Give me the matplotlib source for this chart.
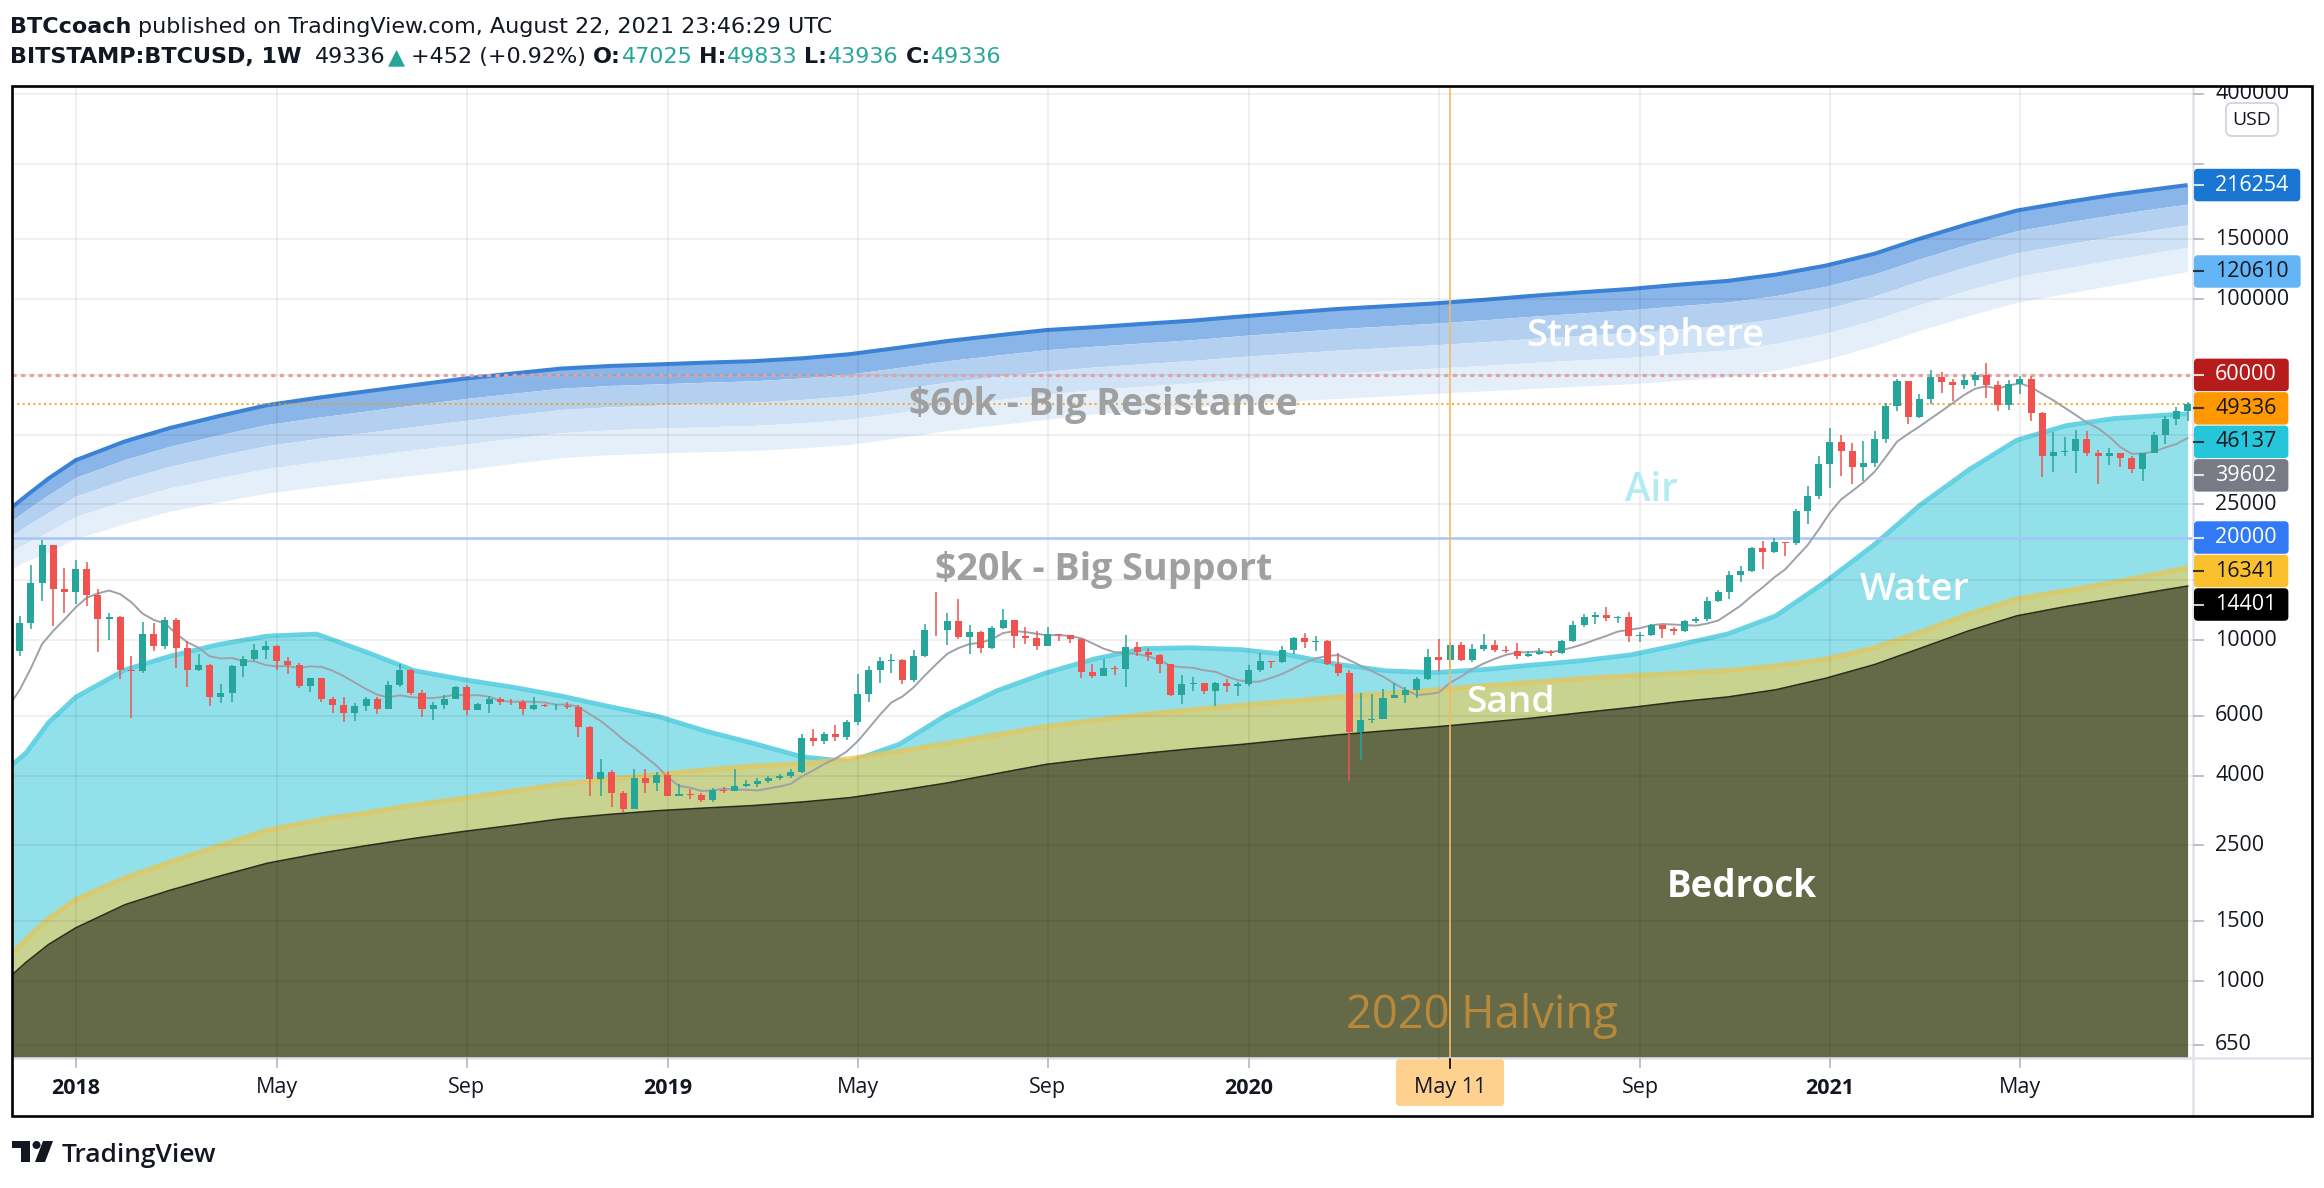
import numpy as np
import pandas as pd
import matplotlib
matplotlib.use("Agg")
import matplotlib.pyplot as plt
import matplotlib.dates as mdates
from matplotlib.patches import Rectangle, FancyBboxPatch, Polygon, Circle
from matplotlib.transforms import Bbox
from matplotlib.ticker import NullLocator

plt.rcParams['font.family'] = ['Open Sans', 'DejaVu Sans']

# ===================== DATA =====================
# Weekly OHLC, BITSTAMP:BTCUSD 1W, first bar = week of 2017-11-27
bar_start = '2017-11-27'
first_open = 9300
closes_2017 = [11230, 14700, 18950, 14100, 13850]
highs_2017 = [11800, 16600, 19666, 19000, 16300]
lows_2017 = [9000, 10800, 13000, 11000, 12000]

closes_2018 = [16150, 13600, 11550, 11700, 8180, 8100, 10400, 9600, 11450, 9500, 8200, 8450, 6820,
               7000, 8370, 8800, 9380, 9600, 8700, 8480, 7350, 7720, 6730, 6460, 6130, 6390,
               6700, 6290, 7390, 8200, 7000, 6300, 6450, 6700, 7300, 6250, 6500, 6700, 6600,
               6580, 6300, 6440, 6400, 6420, 6350, 5580, 3920, 4110, 3560, 3200, 3950, 3820]
highs_2018 = [17200, 16900, 14100, 12000, 11750, 9000, 11300, 11200, 11700, 11600, 9950, 9100, 8500,
              7450, 8450, 9000, 9750, 9960, 9650, 8900, 8550, 7750, 7750, 6820, 6800, 6550,
              6800, 6800, 7600, 8500, 8250, 7150, 6600, 6900, 7350, 7400, 6550, 6850, 6800,
              6700, 6660, 6800, 6500, 6480, 6600, 6450, 5600, 4470, 4150, 3600, 4200, 4180]
lows_2018 = [12800, 12600, 9200, 10000, 7700, 5900, 8000, 9300, 9400, 8300, 7300, 8100, 6400,
             6550, 6600, 7800, 8700, 8800, 8200, 7950, 7230, 7050, 6600, 6130, 5750, 5780,
             6200, 6080, 6280, 7300, 6900, 5950, 5850, 6300, 6700, 6050, 6250, 6100, 6450,
             6450, 6030, 6250, 6350, 6250, 6300, 5190, 3480, 3500, 3250, 3120, 3200, 3560]

closes_2019 = [4020, 3500, 3545, 3510, 3400, 3640, 3620, 3740, 3790, 3860, 3940, 3990, 4110,
               5180, 5070, 5290, 5200, 5760, 6950, 8170, 8700, 8740, 7640, 8990, 10730, 10700,
               11410, 10200, 10560, 9500, 10850, 11450, 10250, 10150, 9600, 10400, 10320, 10050, 8050,
               7850, 8300, 8230, 9550, 9200, 9040, 8500, 6900, 7420, 7500, 7080, 7500, 7320]
highs_2019 = [4100, 4100, 3780, 3650, 3560, 3690, 3700, 4200, 3880, 3950, 3990, 4050, 4180,
              5300, 5470, 5360, 5640, 5850, 7950, 8400, 8900, 9080, 8780, 9360, 11180, 13800,
              12000, 13170, 11050, 10650, 11000, 12320, 11450, 10950, 10620, 10920, 10450, 10350, 10080,
              8500, 8780, 8400, 10350, 9900, 9500, 9100, 8500, 7880, 7800, 7500, 7520, 7700]
lows_2019 = [3600, 3480, 3480, 3430, 3340, 3350, 3560, 3600, 3700, 3700, 3820, 3900, 3950,
             4080, 4900, 4960, 5050, 5100, 5650, 6600, 7500, 8000, 7440, 7540, 8950, 10300,
             9650, 10100, 9100, 9150, 9400, 10800, 9460, 9750, 9350, 9580, 9950, 9800, 7750,
             7760, 7850, 7900, 7300, 8970, 8700, 8000, 6850, 6500, 7080, 6950, 6430, 7050]

closes_2020 = [7450, 8200, 8700, 8600, 9340, 10150, 9900, 9960, 8530, 8030, 5360, 5820, 5880,
               6780, 6900, 7120, 7700, 8900, 8730, 9670, 8720, 9450, 9650, 9360, 9290, 9000,
               9080, 9240, 9160, 9930, 11040, 11680, 11860, 11650, 11700, 10250, 10330, 11070, 10750,
               10660, 11370, 11500, 13030, 13800, 15480, 15960, 18680, 18180, 19350, 19250, 23850, 26500]
highs_2020 = [7550, 8450, 9180, 8700, 9600, 10180, 10500, 10250, 9980, 9180, 8180, 7000, 6950,
              7200, 7470, 7300, 7780, 9450, 10050, 9900, 9850, 9740, 10400, 10000, 9580, 9790,
              9320, 9460, 9340, 10000, 11400, 11900, 12100, 12470, 11800, 12090, 10570, 11180, 11050,
              10950, 11480, 11730, 13350, 14050, 15960, 16480, 18800, 19470, 19920, 19400, 24200, 28400]
lows_2020 = [6880, 7350, 8050, 8280, 8550, 9100, 9500, 9300, 8450, 7850, 3850, 4440, 5700,
             5860, 6750, 6550, 6780, 7650, 8100, 8200, 8700, 8630, 9300, 9250, 9150, 8830,
             8900, 9050, 9000, 9120, 9880, 10930, 11150, 11350, 11200, 9900, 9880, 10250, 10140,
             10380, 10530, 11230, 11400, 12900, 13200, 14850, 15800, 16200, 18000, 17600, 19000, 21900]

closes_2021 = [32900, 38200, 35900, 32300, 33100, 38900, 48600, 57500, 45200, 51000, 59100, 57300,
               55900, 57800, 59800, 56200, 49100, 56600, 58200, 46400, 34700, 35700, 35800, 39000,
               35500, 34700, 35300, 34250, 31800, 35400, 39900, 44600, 47025, 49336]
highs_2021 = [34800, 41950, 40100, 37850, 38500, 40950, 49700, 58350, 57500, 52600, 61800, 61000,
              58500, 60100, 61300, 64900, 57500, 58000, 59600, 59500, 46600, 40900, 39500, 41300,
              41000, 36100, 36600, 35400, 34700, 35500, 40900, 45300, 48150, 49833]
lows_2021 = [26000, 28000, 30400, 28800, 29300, 32300, 37800, 47000, 43000, 44950, 49300, 53100,
             50400, 54600, 55500, 51300, 47000, 47200, 52900, 43800, 30000, 31100, 34800, 31000,
             34800, 28800, 32700, 32100, 31000, 29300, 35300, 37600, 42800, 43936]

# closes of the weeks before the first bar (only used to start the moving average)
ma_warmup_start = '2017-09-25'
ma_warmup_closes = [4400, 4600, 5700, 6000, 6150, 7400, 5950, 8000, 9300]
ma_length = 9

# Band indicator (month starts, plus mid-December 2017)
band_dates = ['2017-11-22', '2017-12-01', '2017-12-15',
              '2018-01-01', '2018-02-01', '2018-03-01', '2018-04-01', '2018-05-01', '2018-06-01',
              '2018-07-01', '2018-08-01', '2018-09-01', '2018-10-01', '2018-11-01', '2018-12-01',
              '2019-01-01', '2019-02-01', '2019-03-01', '2019-04-01', '2019-05-01', '2019-06-01',
              '2019-07-01', '2019-08-01', '2019-09-01', '2019-10-01', '2019-11-01', '2019-12-01',
              '2020-01-01', '2020-02-01', '2020-03-01', '2020-04-01', '2020-05-01', '2020-06-01',
              '2020-07-01', '2020-08-01', '2020-09-01', '2020-10-01', '2020-11-01', '2020-12-01',
              '2021-01-01', '2021-02-01', '2021-03-01', '2021-04-01', '2021-05-01', '2021-06-01',
              '2021-07-01', '2021-08-01', '2021-08-16']
bedrock_top = [1040, 1135, 1279, 1431, 1675, 1845, 2030, 2215, 2360, 2490, 2620, 2745, 2860, 2990, 3080,
               3160, 3220, 3270, 3350, 3450, 3620, 3810, 4060, 4320, 4490, 4650, 4800,
               4940, 5110, 5270, 5420, 5560, 5730, 5900, 6120, 6340, 6590, 6810, 7150,
               7720, 8480, 9440, 10650, 11780, 12550, 13250, 14030, 14401]
sand_top = [1200, 1326, 1527, 1735, 2010, 2235, 2495, 2770, 2965, 3110, 3285, 3440, 3605, 3780, 3915,
            4040, 4170, 4275, 4340, 4490, 4730, 4980, 5280, 5580, 5820, 6050, 6250,
            6440, 6630, 6810, 6980, 7140, 7350, 7520, 7720, 7870, 7990, 8160, 8400,
            8790, 9510, 10530, 11930, 13220, 13980, 14780, 15800, 16341]
water_top = [4300, 4670, 5725, 6800, 8185, 8970, 9718, 10278, 10420, 9270, 8143, 7660, 7290, 6860, 6390,
             5970, 5390, 4990, 4550, 4400, 4950, 6050, 7100, 8020, 8800, 9450, 9500,
             9380, 9040, 8500, 8130, 8030, 8200, 8450, 8700, 9050, 9680, 10430, 11780,
             14800, 19100, 24800, 31600, 38600, 42600, 44700, 45700, 46137]
strat_top = [24500, 26500, 29780, 33700, 38300, 41900, 45450, 48900, 51350, 53600, 56000, 58450, 60500,
             62600, 63700, 64400, 65200, 65800, 67100, 69000, 72100, 75400, 78300, 81200, 82800,
             84700, 86500, 89000, 91400, 93600, 95400, 97200, 99600, 102300, 104800, 107200,
             110300, 113200, 118100, 125400, 136000, 150400, 166500, 182000, 192700, 202600,
             211800, 216254]
strat_bottom = [16250, 17050, 18100, 19870, 21970, 23900, 25470, 27000, 28200, 29300, 30480, 31600, 32940,
                34300, 34980, 35400, 35730, 36000, 36650, 37500, 39300, 41200, 42800, 44400, 46100,
                47200, 48200, 49400, 50300, 51150, 52050, 52950, 53850, 54700, 55600, 56500,
                57800, 59200, 61900, 66500, 73100, 81000, 89600, 97900, 104000, 110200,
                117200, 120610]
strat_layer_fracs = [0.0, 0.22, 0.46, 0.72, 1.0]

level_60k = 60000
level_last = 49336
level_20k = 20000
halving_date = '2020-05-11'

price_ticks = [650, 1000, 1500, 2500, 4000, 6000, 10000, 15000, 25000, 40000, 60000,
               100000, 150000, 250000, 400000]
time_tick_dates = ['2018-01-01', '2018-05-07', '2018-09-03', '2019-01-07', '2019-05-06', '2019-09-02',
                   '2020-01-06', '2020-05-04', '2020-09-07', '2021-01-04', '2021-05-03']
time_tick_labels = ['2018', 'May', 'Sep', '2019', 'May', 'Sep', '2020', 'May', 'Sep', '2021', 'May']

label_values = [216254, 120610, 60000, 49336, 46137, 39602, 20000, 16341, 14401]
label_faces = ['#1976d2', '#64b5f6', '#b71c1c', '#ff9800', '#26c6da', '#787b86', '#3179f5', '#fbc02d', '#000000']
label_text_colors = ['white', '#131722', 'white', '#131722', '#131722', 'white', 'white', '#131722', 'white']

# (text, date, price, colour, weight, target width px)
annotations = [
    ('Stratosphere', '2020-09-10', 80150, 'white', 'semibold', 239),
    ('$60k - Big Resistance', '2019-10-07', 50300, '#a0a0a0', 'bold', 388),
    ('$20k - Big Support', '2019-10-07', 16500, '#a0a0a0', 'bold', 337),
    ('Air', '2020-09-14', 28130, '#b2ebf2', 'semibold', 53),
    ('Water', '2021-02-26', 14410, 'white', 'semibold', 110),
    ('Sand', '2020-06-18', 6720, 'white', 'semibold', 89),
    ('Bedrock', '2020-11-10', 1940, 'white', 'bold', 150),
    ('2020 Halving', '2020-05-31', 811, '#b8893a', 'normal', 272),
]

header_line1 = [('BTCcoach', 'bold', 'txt'),
                ('published on TradingView.com, August 22, 2021 23:46:29 UTC', 'normal', 'txt')]
header_line2 = [('BITSTAMP:BTCUSD, 1W', 'bold', 'txt'), ('49336', 'normal', 'txt'),
                ('▲', 'normal', 'teal'), ('+452 (+0.92%)', 'normal', 'txt'),
                ('O:', 'bold', 'txt'), ('47025', 'normal', 'teal'),
                ('H:', 'bold', 'txt'), ('49833', 'normal', 'teal'),
                ('L:', 'bold', 'txt'), ('43936', 'normal', 'teal'),
                ('C:', 'bold', 'txt'), ('49336', 'normal', 'teal')]
header_gaps2 = [2, 0.3, 1, 1, 0.1, 1, 0.1, 1, 0.1, 1, 0.1, 0]

# ===================== FIGURE =====================
W, H = 2324, 1188
PL, PT, PR, PB = 12, 86, 2193, 1058
FR, FB = 2312, 1116
TXT = '#131722'
TEAL = '#26a69a'
fig = plt.figure(figsize=(W / 100, H / 100), dpi=100, facecolor='white')
ax = fig.add_axes([PL / W, 1 - PB / H, (PR - PL) / W, (PB - PT) / H])
ax.set_yscale('log')
ax.set_ylim(594.6, 422200)
x0 = mdates.date2num(pd.Timestamp('2017-11-22 04:00'))
x1 = mdates.date2num(pd.Timestamp('2021-08-19 10:00'))
ax.set_xlim(x0, x1)
for s in ax.spines.values():
    s.set_visible(False)
ax.set_xticks([])
ax.set_yticks([])
ax.yaxis.set_minor_locator(NullLocator())
ax.set_facecolor('white')

deco = fig.add_axes([0, 0, 1, 1], zorder=5)
deco.set_xlim(0, W)
deco.set_ylim(H, 0)
deco.axis('off')
renderer = fig.canvas.get_renderer()

def dn(d):
    return mdates.date2num(pd.Timestamp(d))

def xp(d):
    return ax.transData.transform((dn(d), 1000))[0]

def yp(p):
    return H - ax.transData.transform((x0, p))[1]

# ---- bands ----
bx = np.array([dn(d) for d in band_dates])
lt = np.log10(np.array(strat_top, float))
lb = np.log10(np.array(strat_bottom, float))
strat_colors = ['#8ab5e8', '#b4d0f0', '#d0e2f6', '#e5effa']
bounds = [10 ** (lt - f * (lt - lb)) for f in strat_layer_fracs]
for i in range(4):
    ax.fill_between(bx, bounds[i + 1], bounds[i], color=strat_colors[i], lw=0, zorder=1)
ax.plot(bx, strat_top, color='#3b82d6', lw=2.9, zorder=1.05, solid_capstyle='butt')

low_edge = 100
ax.fill_between(bx, low_edge, water_top, color='#92e1ea', lw=0, zorder=1.1)
ax.plot(bx, water_top, color='#5acfe0', lw=3.4, alpha=0.9, zorder=1.2, solid_capstyle='butt')
ax.fill_between(bx, low_edge, sand_top, color='#c8d38f', lw=0, zorder=1.3)
ax.plot(bx, sand_top, color='#e6c65a', lw=3.6, alpha=0.75, zorder=1.4, solid_capstyle='butt')
ax.fill_between(bx, low_edge, bedrock_top, color='#646a48', lw=0, zorder=1.5)
ax.plot(bx, bedrock_top, color='#2a2f1c', lw=1.2, zorder=1.6)

# ---- grid ----
for p in price_ticks:
    ax.axhline(p, color='black', alpha=0.065, lw=1.3, zorder=4)
for d in time_tick_dates:
    ax.axvline(dn(d), color='black', alpha=0.065, lw=1.3, zorder=4)

# ---- level lines ----
ax.axhline(level_60k, color='#e0a2a2', lw=2.3, linestyle=(0, (1.3, 1.4)), zorder=5)
ax.axhline(level_last, color='#ff9800', lw=1.2, linestyle=(0, (1.2, 2.0)), zorder=5)
ax.axhline(level_20k, color='#a6c4f6', lw=1.8, zorder=5)
ax.axvline(dn(halving_date), color='#f7b860', lw=1.2, zorder=9)

# ---- candles ----
closes = closes_2017 + closes_2018 + closes_2019 + closes_2020 + closes_2021
highs = highs_2017 + highs_2018 + highs_2019 + highs_2020 + highs_2021
lows = lows_2017 + lows_2018 + lows_2019 + lows_2020 + lows_2021
n = len(closes)
dates = pd.date_range(bar_start, periods=n, freq='W-MON')
xs = mdates.date2num(dates)
o = np.array([first_open] + closes[:-1], float)
c = np.array(closes, float)
h = np.maximum.reduce([np.array(highs, float), o, c])
l = np.minimum.reduce([np.array(lows, float), o, c])
up = c >= o
cols = np.where(up, '#26a69a', '#ef5350')
ax.vlines(xs, l, h, colors=cols, lw=1.1, zorder=6)
body_bot = np.minimum(o, c)
body_h = np.maximum(np.abs(c - o), c * 0.004)
ax.bar(xs, body_h, bottom=body_bot, width=4.4, color=cols, lw=0, zorder=7)

# ---- moving average ----
all_closes = ma_warmup_closes + closes
all_dates = pd.date_range(ma_warmup_start, periods=len(all_closes), freq='W-MON')
ma = pd.Series(all_closes, dtype=float).rolling(ma_length).mean()
mask = ~ma.isna()
ax.plot(mdates.date2num(all_dates[mask.values]), ma[mask].values, color='#9ea1a9', lw=1.4, zorder=5.5)

# ---- annotations ----
for txt, d, p, col, wt, tw in annotations:
    t = ax.annotate(txt, xy=(dn(d), p), xytext=(0, -4), textcoords='offset pixels',
                    color=col, fontweight=wt, fontsize=24, ha='center', va='center',
                    zorder=8, annotation_clip=False)
    bb = t.get_window_extent(renderer)
    t.set_fontsize(24 * tw / bb.width)

# ---- frame / separators ----
deco.plot([PR, PR], [PT, FB], color='#e0e3eb', lw=1.8, zorder=1)
deco.plot([PL, FR], [PB, PB], color='#e0e3eb', lw=1.8, zorder=1)
deco.add_patch(Rectangle((PL, PT), FR - PL, FB - PT, fill=False, ec='black', lw=1.9, zorder=6))

# ---- value labels (stacked like TradingView) ----
AXFS = 15.5
BH = 33.5
order = np.argsort([yp(v) for v in label_values])
prev = -1e9
box_spans = []
for i in order:
    v = label_values[i]
    yc = max(yp(v), prev + BH)
    prev = yc
    t = deco.text(PR + 22, yc, f'{v}', fontsize=AXFS, color=label_text_colors[i], ha='left',
                  va='center', zorder=8)
    tw = t.get_window_extent(renderer).width
    deco.add_patch(FancyBboxPatch((PR + 1, yc - BH / 2 + 0.5), 21 + tw + 12, BH - 1,
                                  boxstyle='round,pad=0,rounding_size=4', fc=label_faces[i],
                                  ec='none', zorder=7))
    deco.plot([PR + 1, PR + 10], [yc, yc], color=label_text_colors[i], lw=1.5, alpha=0.8, zorder=7.5)
    box_spans.append((yc - BH / 2, yc + BH / 2))

# ---- price axis ----
clip = Bbox.from_extents(PR, H - PB, FR, H - PT)
for p in price_ticks:
    y = yp(p)
    deco.plot([PR + 1, PR + 10], [y, y], color='#b2b5be', lw=1.2, zorder=1)
    if any(a - 6 < y < b + 6 for a, b in box_spans):
        continue
    t = deco.text(PR + 22, y, f'{p}', fontsize=AXFS, color=TXT, ha='left', va='center', zorder=1)
    t.set_clip_box(clip)
    t.set_clip_on(True)

# USD box
deco.add_patch(FancyBboxPatch((2226, 103), 52, 33, boxstyle='round,pad=0,rounding_size=6',
                              fc='white', ec='#d1d4dc', lw=1.3, zorder=3))
deco.text(2252, 120, 'USD', fontsize=14, color=TXT, ha='center', va='center', zorder=4)

# ---- time axis ----
TY = 1088
hx = xp(halving_date)
for d, lab in zip(time_tick_dates, time_tick_labels):
    x = xp(d)
    deco.plot([x, x], [PB + 1, PB + 9], color='#b2b5be', lw=1.2, zorder=1)
    if abs(x - hx) < 60:
        continue
    deco.text(x, TY, lab, fontsize=AXFS, color=TXT, ha='center', va='center',
              fontweight='bold' if lab.isdigit() else 'normal', zorder=1)
deco.add_patch(FancyBboxPatch((hx - 54, PB + 1), 108, 47, boxstyle='round,pad=0,rounding_size=4',
                              fc='#ffd18f', ec='none', zorder=3))
deco.plot([hx, hx], [PB + 1, PB + 10], color='black', lw=1.2, zorder=4)
deco.text(hx, TY, 'May 11', fontsize=AXFS, color=TXT, ha='center', va='center', zorder=4)

# ---- header ----
HFONT = ['DejaVu Sans']
colmap = {'txt': TXT, 'teal': TEAL}

def draw_runs(x, y, runs, gaps, size):
    sp = size * 100 / 72 * 0.3
    arts = []
    for (s, wt, col), gap in zip(runs, gaps):
        t = deco.text(x, y, s, fontsize=size, fontweight=wt, color=colmap[col], ha='left',
                      va='baseline', family=HFONT)
        arts.append(t)
        x += t.get_window_extent(renderer).width + gap * sp
    return x, arts

x_end, arts = draw_runs(10, 33, header_line1, [1, 0], 14)
hfs = 14 * (836 - 10) / (x_end - 10)
for a in arts:
    a.remove()
draw_runs(10, 33, header_line1, [1, 0], hfs)
draw_runs(10, 63, header_line2, header_gaps2, hfs)

# ---- footer logo ----
LC = '#131722'
deco.add_patch(Rectangle((12, 1141), 18, 7, color=LC, lw=0))
deco.add_patch(Rectangle((21, 1141), 9, 21, color=LC, lw=0))
deco.add_patch(Circle((36.5, 1145), 4, color=LC, lw=0))
deco.add_patch(Polygon([(43, 1141), (53, 1141), (45, 1162), (35, 1162)], closed=True, color=LC, lw=0))
deco.text(62, 1162, 'TradingView', fontsize=19, fontweight='semibold', color=LC, ha='left', va='baseline')

fig.savefig('out.png', dpi=100, facecolor='white')
